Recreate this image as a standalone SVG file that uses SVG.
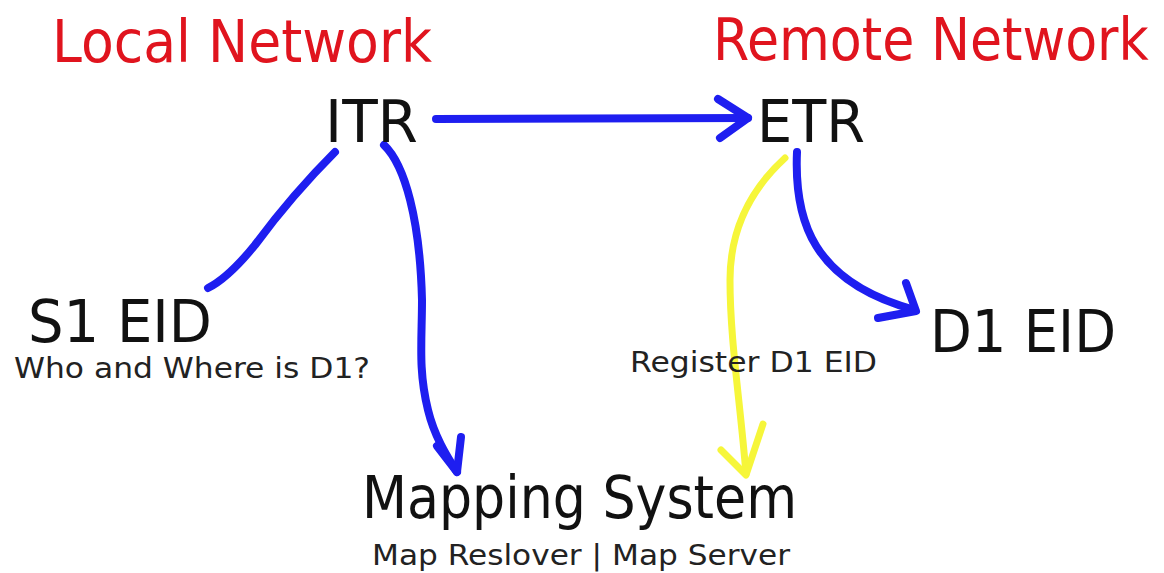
<svg xmlns="http://www.w3.org/2000/svg" width="1164" height="573" viewBox="0 0 1164 573">
<style>
text{font-family:"DejaVu Sans","Liberation Sans",sans-serif;}
.title{fill:#e0141e;font-size:58px;}
.big{fill:#111;font-size:58px;}
.small{fill:#222;font-size:29px;}
.blue{fill:none;stroke:#1e1ef0;stroke-width:8;stroke-linecap:round;stroke-linejoin:round;}
.yellow{fill:none;stroke:#f6f63a;stroke-width:7;stroke-linecap:round;stroke-linejoin:round;}
</style>
<rect width="1164" height="573" fill="#fff"/>
<g id="local-network"><text class="title" x="52" y="62" textLength="380" lengthAdjust="spacingAndGlyphs">Local Network</text></g>
<g id="remote-network"><text class="title" transform="translate(713,60) scale(0.9,1)" x="0" y="0">Remote Network</text></g>
<g id="connectors">
<path class="blue" d="M436,119 L748,118"/>
<path class="blue" d="M718,99 L748,118 L720,138"/>
<path class="blue" d="M335,152 C305,182 278,214 255,245 C238,266 224,280 208,288"/>
<path class="blue" d="M384,145 C405,165 420,220 422,300 C422,340 418,370 428,410 C434,435 446,455 457,472"/>
<path class="blue" d="M437,446 L457,472 L461,437"/>
<path class="blue" d="M797,152 C794,220 812,282 915,310"/>
<path class="blue" d="M906,283 L916,311 L878,318"/>
<path class="yellow" d="M785,158 C750,190 730,230 730,280 C730,340 740,400 746,474"/>
<path class="yellow" d="M721,450 L746,475 L763,424"/>
</g>
<g id="itr"><text class="big" x="325" y="142" textLength="93" lengthAdjust="spacingAndGlyphs">ITR</text></g>
<g id="etr"><text class="big" x="757" y="142" textLength="108" lengthAdjust="spacingAndGlyphs">ETR</text></g>
<g id="s1-eid"><text class="big" x="28" y="342" textLength="184" lengthAdjust="spacingAndGlyphs">S1 EID</text>
<text class="small" x="14" y="378" textLength="356" lengthAdjust="spacingAndGlyphs">Who and Where is D1?</text></g>
<g id="d1-eid"><text class="big" x="930" y="352" textLength="186" lengthAdjust="spacingAndGlyphs">D1 EID</text></g>
<g id="register-label"><text class="small" x="630" y="372" textLength="247" lengthAdjust="spacingAndGlyphs">Register D1 EID</text></g>
<g id="mapping-system"><text class="big" x="362" y="518" textLength="435" lengthAdjust="spacingAndGlyphs">Mapping System</text>
<text class="small" x="372" y="565" textLength="418" lengthAdjust="spacingAndGlyphs">Map Reslover | Map Server</text></g>
</svg>
